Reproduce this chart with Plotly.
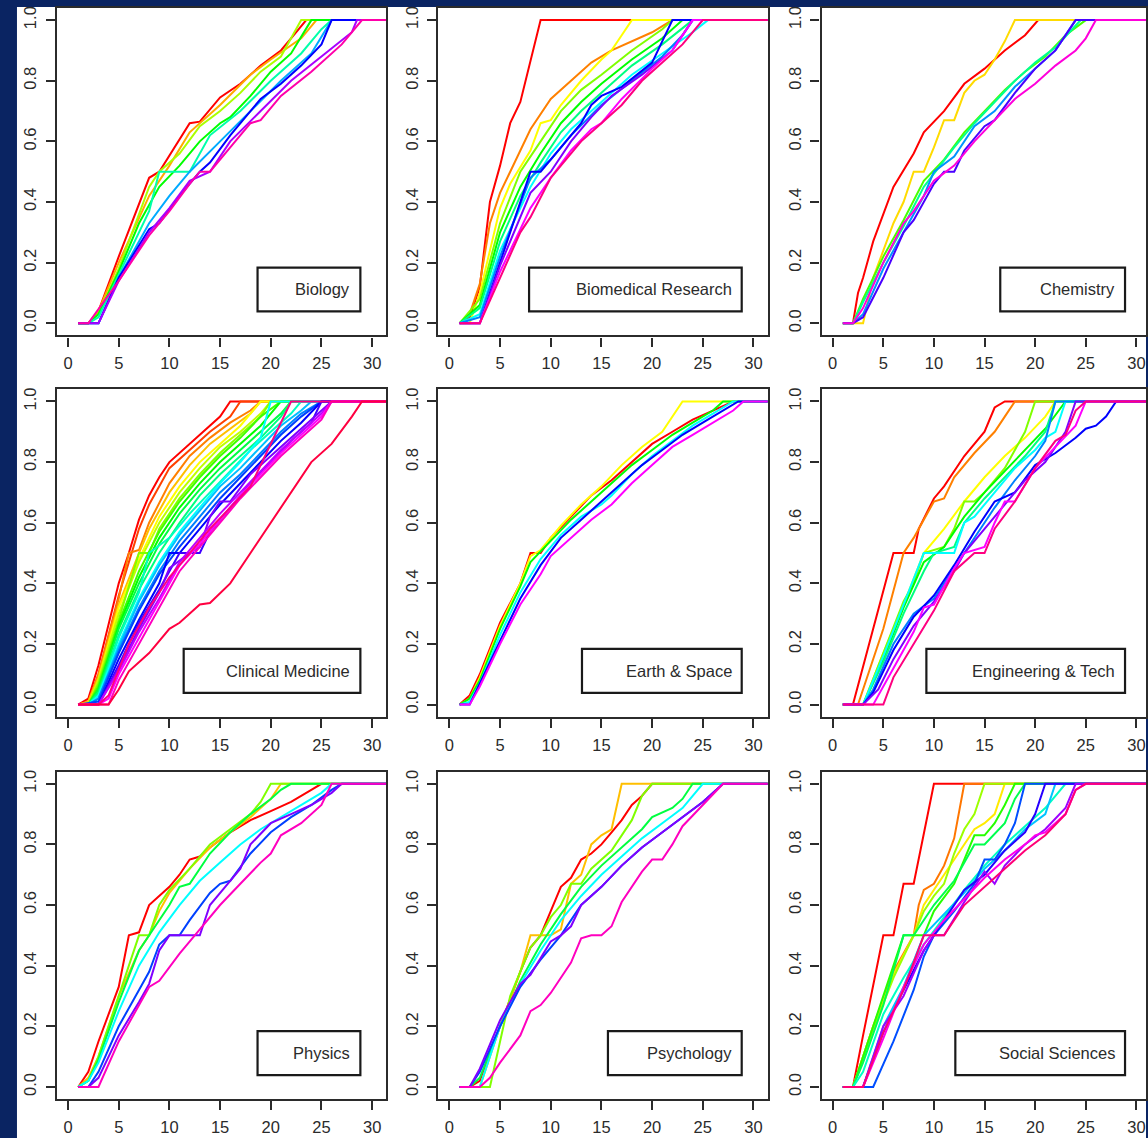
import colorsys
import plotly.graph_objects as go

# ---------------- data ----------------
FIELDS = ["Biology", "Biomedical Research", "Chemistry",
          "Clinical Medicine", "Earth & Space", "Engineering & Tech",
          "Physics", "Psychology", "Social Sciences"]

X_TICKS = [0, 5, 10, 15, 20, 25, 30]
Y_TICKS = [0.0, 0.2, 0.4, 0.6, 0.8, 1.0]

# each curve: list of (x, y) knots; curves ordered as drawn (rainbow order)
BIOLOGY = [
    [(1,0),(2,0),(3,0.04),(5,0.22),(8,0.48),(9,0.5),(12,0.66),(13,0.665),(15,0.745),(17,0.79),(19,0.85),(21,0.9),(22,0.94),(23.5,1.0)],
    [(1,0),(2,0),(3,0.04),(5,0.2),(8,0.42),(10,0.52),(12,0.63),(15,0.72),(18,0.82),(20,0.87),(23,0.94),(24.5,1.0)],
    [(1,0),(2,0),(3,0.03),(5,0.18),(8,0.45),(9,0.5),(11,0.56),(13,0.65),(15,0.7),(17,0.76),(19,0.83),(21,0.88),(23,1.0)],
    [(1,0),(2,0),(3,0.03),(5,0.17),(7,0.33),(9,0.45),(11,0.52),(13,0.6),(15,0.66),(16,0.68),(18,0.75),(20,0.83),(22,0.89),(24,1.0)],
    [(1,0),(2,0),(3,0.02),(5,0.16),(8,0.37),(9,0.5),(12,0.5),(14,0.62),(17,0.7),(20,0.8),(23,0.89),(25,0.97),(26,1.0)],
    [(1,0),(3,0),(5,0.15),(8,0.33),(10,0.42),(12,0.5),(15,0.6),(18,0.7),(21,0.8),(24,0.89),(26,1.0)],
    [(1,0),(2,0),(3,0),(5,0.15),(8,0.31),(9,0.33),(11,0.42),(13,0.5),(14,0.53),(16,0.62),(19,0.74),(21,0.79),(23,0.85),(25,0.92),(26,1.0)],
    [(1,0),(3,0),(5,0.14),(8,0.3),(10,0.38),(12,0.47),(14,0.5),(16,0.6),(19,0.7),(22,0.8),(25,0.88),(28,0.96),(28.5,1.0)],
    [(1,0),(2,0),(5,0.14),(8,0.29),(10,0.37),(12,0.46),(13,0.5),(14,0.5),(16,0.58),(18,0.66),(19,0.67),(21,0.75),(24,0.83),(27,0.92),(29,1.0)],
]

BIOMEDICAL = [
    [(1,0),(2,0.02),(3,0.12),(4,0.4),(5,0.52),(6,0.66),(7,0.73),(9,1.0)],
    [(1,0),(2,0.03),(3,0.13),(4,0.33),(5,0.43),(6,0.5),(8,0.64),(10,0.74),(12,0.8),(14,0.86),(16,0.9),(18,0.93),(20,0.96),(22,1.0)],
    [(1,0),(2,0),(3,0.1),(5,0.38),(6,0.46),(8,0.57),(9,0.66),(10,0.67),(11,0.72),(13,0.8),(15,0.87),(16,0.9),(17,0.95),(18,1.0)],
    [(1,0),(3,0.08),(5,0.33),(7,0.5),(9,0.6),(11,0.7),(13,0.77),(15,0.82),(18,0.9),(21,0.97),(22,1.0)],
    [(1,0),(3,0.06),(5,0.3),(7,0.45),(9,0.56),(11,0.66),(13,0.73),(15,0.79),(18,0.87),(21,0.94),(23,1.0)],
    [(1,0),(3,0.05),(5,0.27),(7,0.42),(9,0.53),(11,0.63),(13,0.7),(15,0.76),(18,0.85),(21,0.92),(24,1.0)],
    [(1,0),(3,0.03),(5,0.24),(8,0.45),(10,0.56),(12,0.64),(15,0.73),(18,0.82),(21,0.89),(24,0.96),(25.5,1.0)],
    [(1,0),(3,0.02),(5,0.22),(8,0.48),(10,0.54),(12,0.62),(15,0.72),(18,0.8),(21,0.88),(23,0.95),(24,1.0)],
    [(1,0),(3,0),(5,0.2),(8,0.5),(9,0.5),(11,0.58),(13,0.66),(14,0.72),(15,0.75),(17,0.78),(20,0.86),(22,1.0)],
    [(1,0),(3,0),(5,0.19),(8,0.43),(10,0.5),(12,0.6),(14,0.68),(16,0.75),(19,0.82),(22,0.9),(24,1.0)],
    [(1,0),(3,0),(5,0.17),(8,0.38),(10,0.48),(12,0.57),(14,0.64),(15,0.66),(17,0.74),(20,0.84),(22,0.9),(23,0.95),(24,1.0)],
    [(1,0),(2,0),(3,0),(5,0.15),(7,0.3),(8,0.35),(10,0.48),(11,0.52),(13,0.6),(15,0.66),(17,0.72),(19,0.8),(21,0.86),(23,0.92),(25,1.0)],
]

CHEMISTRY = [
    [(1,0),(2,0),(2.5,0.1),(3,0.15),(4,0.27),(6,0.45),(8,0.56),(9,0.63),(11,0.7),(13,0.79),(15,0.84),(17,0.9),(19,0.95),(20.3,1.0)],
    [(1,0),(3,0),(4,0.15),(6,0.33),(7,0.4),(8,0.5),(9,0.5),(10,0.58),(11,0.67),(12,0.67),(13,0.76),(14,0.8),(15,0.82),(16,0.87),(17,0.93),(18,1.0)],
    [(1,0),(2,0),(3,0.08),(5,0.22),(7,0.34),(9,0.47),(11,0.54),(13,0.63),(15,0.7),(17,0.77),(19,0.83),(21,0.88),(23,0.95),(25,1.0)],
    [(1,0),(2,0),(3,0.07),(5,0.2),(7,0.32),(9,0.45),(12,0.58),(14,0.66),(16,0.73),(18,0.8),(20,0.86),(22,0.91),(24.5,1.0)],
    [(1,0),(2,0),(3,0.03),(5,0.18),(7,0.3),(9,0.42),(10,0.5),(12,0.55),(14,0.65),(16,0.7),(18,0.78),(20,0.84),(22,0.9),(24,1.0)],
    [(1,0),(2,0),(3,0.02),(5,0.15),(7,0.3),(8,0.34),(10,0.46),(11,0.5),(12,0.5),(13,0.57),(15,0.65),(16,0.67),(18,0.76),(20,0.84),(22,0.9),(23,0.95),(24,1.0)],
    [(1,0),(2,0),(3,0.05),(5,0.2),(7,0.33),(8,0.37),(10,0.47),(12,0.52),(14,0.6),(16,0.67),(18,0.74),(20,0.79),(22,0.85),(24,0.9),(25,0.94),(26,1.0)],
]

CLINICAL = [
    [(1,0),(2,0.02),(3,0.13),(4,0.27),(5,0.4),(6,0.5),(7,0.61),(8,0.69),(9,0.75),(10,0.8),(12,0.86),(14,0.92),(15,0.95),(16,1.0)],
    [(1,0),(2,0.01),(3,0.1),(5,0.36),(6,0.47),(7,0.58),(8,0.66),(10,0.78),(12,0.84),(14,0.9),(16,0.95),(17,1.0)],
    [(1,0),(2,0.01),(3,0.1),(5,0.35),(6,0.5),(7,0.51),(8,0.6),(10,0.73),(12,0.82),(14,0.88),(16,0.93),(18,0.97),(19,1.0)],
    [(1,0),(2,0.01),(3,0.09),(5,0.33),(7,0.5),(8,0.58),(10,0.7),(12,0.79),(14,0.86),(16,0.91),(18,0.96),(19,1.0)],
    [(1,0),(2,0),(3,0.08),(5,0.32),(7,0.48),(9,0.62),(11,0.72),(13,0.8),(15,0.86),(17,0.92),(19,1.0)],
    [(1,0),(2,0),(3,0.08),(5,0.3),(7,0.47),(9,0.6),(11,0.7),(13,0.78),(15,0.85),(17,0.9),(19,0.96),(20,1.0)],
    [(1,0),(2,0),(3,0.07),(5,0.28),(7,0.5),(8,0.5),(9,0.58),(11,0.68),(13,0.76),(15,0.83),(17,0.89),(19,0.95),(20,1.0)],
    [(1,0),(2,0),(3,0.06),(5,0.27),(7,0.44),(9,0.57),(11,0.67),(13,0.75),(15,0.82),(17,0.88),(19,0.95),(21,1.0)],
    [(1,0),(2,0),(3,0.05),(5,0.26),(7,0.42),(9,0.55),(11,0.65),(13,0.73),(15,0.8),(17,0.86),(19,0.92),(21,1.0)],
    [(1,0),(2,0),(3,0.05),(5,0.25),(7,0.4),(9,0.53),(11,0.63),(13,0.71),(15,0.78),(17,0.84),(19,0.9),(21,0.96),(22,1.0)],
    [(1,0),(2,0),(3,0.04),(5,0.23),(7,0.38),(9,0.5),(11,0.6),(13,0.69),(15,0.76),(17,0.82),(19,0.88),(21,0.95),(22,1.0)],
    [(1,0),(2,0),(3,0.03),(5,0.22),(7,0.37),(8,0.5),(10,0.55),(12,0.63),(14,0.7),(16,0.77),(18,0.84),(20,0.9),(22,0.96),(23,1.0)],
    [(1,0),(2,0),(3,0.03),(5,0.2),(7,0.35),(9,0.47),(11,0.57),(13,0.65),(15,0.73),(17,0.8),(19,0.88),(20,1.0)],
    [(1,0),(2,0),(3,0.02),(5,0.19),(7,0.34),(9,0.46),(11,0.56),(13,0.64),(15,0.72),(17,0.78),(19,0.85),(21,0.92),(23,0.97),(24,1.0)],
    [(1,0),(2,0),(3,0.02),(5,0.18),(7,0.32),(9,0.44),(11,0.54),(13,0.62),(15,0.7),(17,0.76),(19,0.83),(21,0.9),(23,0.96),(25,1.0)],
    [(1,0),(3,0.01),(5,0.17),(7,0.31),(9,0.43),(11,0.52),(13,0.6),(15,0.68),(17,0.75),(19,0.82),(21,0.89),(23,0.95),(25,1.0)],
    [(1,0),(3,0),(5,0.15),(7,0.28),(9,0.4),(10,0.5),(11,0.5),(13,0.58),(15,0.66),(17,0.73),(19,0.8),(21,0.87),(23,0.93),(25,1.0)],
    [(1,0),(3,0),(5,0.13),(7,0.27),(9,0.38),(11,0.5),(13,0.5),(14,0.57),(16,0.65),(18,0.73),(20,0.8),(22,0.87),(24,0.93),(25,1.0)],
    [(1,0),(3,0),(5,0.12),(7,0.25),(9,0.37),(10,0.45),(12,0.5),(13,0.52),(14,0.62),(15,0.67),(16,0.67),(18,0.76),(20,0.82),(22,0.88),(24,0.94),(26,1.0)],
    [(1,0),(3,0),(5,0.11),(7,0.24),(9,0.35),(11,0.47),(13,0.55),(15,0.63),(17,0.7),(19,0.77),(21,0.84),(23,0.9),(25,0.96),(26,1.0)],
    [(1,0),(3,0),(4,0.02),(5,0.1),(7,0.22),(9,0.34),(11,0.46),(13,0.53),(15,0.61),(17,0.69),(19,0.76),(21,0.83),(23,0.89),(25,0.95),(26,1.0)],
    [(1,0),(3,0),(4,0),(5,0.08),(7,0.2),(9,0.32),(11,0.44),(13,0.52),(15,0.6),(17,0.68),(19,0.75),(21,0.82),(23,0.88),(25,0.94),(26,1.0)],
    [(1,0),(3,0),(4,0.03),(6,0.2),(8,0.32),(10,0.42),(12,0.5),(14,0.58),(16,0.65),(18,0.72),(20,0.86),(22,1.0)],
    [(1,0),(4,0),(5,0.05),(6,0.11),(8,0.17),(10,0.25),(11,0.27),(13,0.33),(14,0.335),(16,0.4),(18,0.5),(20,0.6),(22,0.7),(24,0.8),(26,0.86),(28,0.95),(29,1.0)],
]

EARTH = [
    [(1,0),(2,0.03),(3,0.1),(5,0.27),(7,0.4),(8,0.5),(9,0.5),(10,0.55),(12,0.62),(14,0.69),(16,0.74),(18,0.8),(20,0.86),(22,0.9),(24,0.94),(26,0.97),(28,1.0)],
    [(1,0),(2,0.02),(3,0.09),(5,0.26),(7,0.4),(8,0.49),(9,0.51),(11,0.59),(13,0.66),(15,0.72),(17,0.79),(19,0.85),(21,0.9),(23,1.0)],
    [(1,0),(2,0.02),(3,0.08),(5,0.25),(7,0.39),(8,0.47),(10,0.54),(12,0.61),(14,0.67),(16,0.73),(18,0.79),(20,0.84),(22,0.89),(24,0.93),(26,0.97),(27,1.0)],
    [(1,0),(2,0.01),(3,0.07),(5,0.23),(7,0.37),(9,0.48),(11,0.56),(13,0.62),(15,0.66),(16,0.69),(18,0.76),(20,0.82),(22,0.87),(24,0.92),(26,0.96),(28,1.0)],
    [(1,0),(2,0),(3,0.07),(5,0.21),(7,0.35),(9,0.46),(11,0.55),(13,0.61),(15,0.67),(17,0.73),(19,0.79),(21,0.84),(23,0.89),(25,0.93),(27,0.97),(28.5,1.0)],
    [(1,0),(2,0),(3,0.06),(5,0.2),(7,0.33),(9,0.43),(10,0.49),(12,0.55),(14,0.61),(16,0.66),(18,0.73),(20,0.79),(22,0.85),(24,0.89),(26,0.93),(28,0.97),(29,1.0)],
]

ENGINEERING = [
    [(1,0),(2,0),(6,0.5),(8,0.5),(8.5,0.58),(10,0.68),(11,0.72),(13,0.82),(15,0.9),(16,0.98),(17,1.0)],
    [(1,0),(2.5,0),(5,0.25),(7,0.5),(8,0.55),(10,0.67),(11,0.68),(12,0.75),(14,0.83),(16,0.9),(17,0.95),(18,1.0)],
    [(1,0),(3,0),(5,0.17),(7,0.33),(9,0.5),(11,0.58),(13,0.67),(15,0.75),(17,0.82),(19,0.88),(21,0.95),(22,1.0)],
    [(1,0),(3,0),(5,0.17),(7,0.34),(8,0.4),(9,0.5),(11,0.52),(12,0.58),(13,0.67),(14,0.67),(15,0.7),(17,0.78),(19,0.9),(20,1.0)],
    [(1,0),(3,0),(5,0.15),(7,0.32),(9,0.47),(11,0.52),(13,0.62),(15,0.7),(17,0.77),(19,0.84),(21,0.91),(23,1.0)],
    [(1,0),(3,0),(5,0.14),(7,0.3),(9,0.44),(10,0.5),(12,0.52),(13,0.6),(15,0.68),(17,0.75),(19,0.82),(21,0.9),(22,1.0)],
    [(1,0),(3,0),(5,0.16),(7,0.33),(9,0.5),(12,0.5),(13,0.6),(14,0.62),(16,0.7),(18,0.78),(20,0.84),(21,0.88),(22,0.9),(23,1.0)],
    [(1,0),(3,0),(4,0.05),(6,0.2),(8,0.3),(10,0.35),(12,0.45),(14,0.55),(16,0.65),(18,0.74),(20,0.82),(21,0.87),(22,1.0)],
    [(1,0),(3,0),(4,0.04),(6,0.18),(8,0.29),(10,0.36),(12,0.46),(14,0.57),(16,0.67),(18,0.7),(20,0.79),(22,0.83),(24,0.88),(25,0.91),(26,0.92),(27,0.95),(28,1.0)],
    [(1,0),(3,0),(4.5,0.05),(6,0.15),(8,0.26),(10,0.34),(12,0.44),(13,0.5),(15,0.58),(17,0.66),(19,0.74),(21,0.8),(23,0.9),(24,1.0)],
    [(1,0),(4,0),(6,0.12),(8,0.24),(9,0.32),(10,0.33),(12,0.45),(13,0.5),(15,0.52),(16,0.6),(17,0.67),(18,0.67),(20,0.78),(22,0.85),(24,0.92),(25,1.0)],
    [(1,0),(5,0),(6,0.09),(8,0.2),(10,0.31),(12,0.44),(14,0.5),(15,0.5),(16,0.58),(18,0.67),(20,0.78),(22,0.87),(23,0.89),(24,0.97),(25,1.0)],
]

PHYSICS = [
    [(1,0),(2,0.05),(3,0.15),(4,0.24),(5,0.33),(6,0.5),(7,0.51),(8,0.6),(9,0.63),(10,0.66),(11,0.7),(12,0.75),(13,0.76),(14,0.79),(16,0.84),(18,0.88),(20,0.91),(22,0.94),(24,0.98),(25,1.0)],
    [(1,0),(2,0.03),(3,0.1),(5,0.3),(7,0.45),(8,0.5),(9,0.58),(10,0.64),(12,0.72),(14,0.79),(16,0.84),(18,0.89),(20,0.95),(21,1.0)],
    [(1,0),(2,0.02),(3,0.1),(5,0.3),(7,0.5),(8,0.5),(9,0.6),(10,0.65),(12,0.72),(14,0.8),(16,0.85),(18,0.9),(19,0.94),(20,1.0)],
    [(1,0),(2,0.02),(3,0.09),(5,0.28),(7,0.45),(8,0.5),(10,0.6),(11,0.66),(12,0.67),(14,0.77),(16,0.84),(18,0.9),(20,0.95),(21,0.98),(22,1.0)],
    [(1,0),(2,0.02),(3,0.08),(5,0.25),(7,0.4),(9,0.51),(11,0.6),(13,0.68),(15,0.74),(17,0.8),(19,0.85),(21,0.89),(23,0.93),(25,0.97),(26,1.0)],
    [(1,0),(2,0),(3,0.05),(5,0.2),(7,0.32),(8,0.38),(9,0.47),(10,0.5),(11,0.5),(12,0.55),(14,0.64),(15,0.67),(16,0.68),(18,0.77),(20,0.84),(22,0.89),(24,0.93),(26,0.98),(27,1.0)],
    [(1,0),(2,0),(3,0.03),(5,0.17),(7,0.28),(8,0.34),(9,0.45),(10,0.5),(13,0.5),(14,0.6),(16,0.68),(17,0.72),(18,0.8),(20,0.87),(22,0.9),(24,0.93),(26,0.97),(27,1.0)],
    [(1,0),(3,0),(5,0.15),(7,0.27),(8,0.33),(9,0.35),(11,0.44),(13,0.52),(15,0.6),(17,0.67),(19,0.74),(20,0.77),(21,0.83),(23,0.87),(25,0.93),(26,1.0)],
]

PSYCHOLOGY = [
    [(1,0),(2,0),(3,0.02),(5,0.2),(7,0.38),(8,0.46),(9,0.5),(10,0.58),(11,0.66),(12,0.69),(13,0.75),(14,0.77),(15,0.8),(16,0.84),(17,0.88),(18,0.93),(19,0.96),(20,1.0)],
    [(1,0),(3,0),(5,0.2),(7,0.38),(8,0.5),(10,0.5),(11,0.52),(12,0.67),(13,0.7),(14,0.8),(15,0.83),(16,0.85),(17,1.0)],
    [(1,0),(4,0),(5,0.15),(6,0.3),(7,0.38),(8,0.46),(9,0.5),(10,0.56),(11,0.6),(12,0.67),(13,0.67),(14,0.72),(16,0.78),(18,0.88),(19,0.96),(20,1.0)],
    [(1,0),(2,0),(3,0.03),(5,0.2),(7,0.35),(9,0.47),(11,0.57),(13,0.66),(15,0.73),(17,0.79),(19,0.85),(20,0.89),(22,0.92),(23,0.95),(24,1.0)],
    [(1,0),(3,0),(5,0.2),(7,0.34),(9,0.45),(11,0.55),(13,0.63),(15,0.7),(17,0.76),(19,0.82),(21,0.87),(23,0.92),(25,1.0)],
    [(1,0),(2,0),(3,0.05),(5,0.2),(7,0.33),(9,0.42),(11,0.5),(13,0.6),(15,0.66),(17,0.73),(19,0.79),(21,0.84),(23,0.89),(25,0.94),(27,1.0)],
    [(1,0),(2,0),(3,0.06),(5,0.22),(7,0.34),(8,0.37),(10,0.48),(11,0.5),(12,0.53),(13,0.6),(15,0.66),(17,0.73),(19,0.79),(21,0.84),(23,0.89),(25,0.94),(27,1.0)],
    [(1,0),(3,0),(4,0.03),(5,0.08),(7,0.17),(8,0.25),(9,0.27),(10,0.31),(12,0.41),(13,0.49),(14,0.5),(15,0.5),(16,0.53),(17,0.61),(19,0.71),(20,0.75),(21,0.75),(22,0.8),(23,0.86),(25,0.93),(27,1.0)],
]

SOCIAL = [
    [(1,0),(2,0),(3,0.17),(4,0.33),(5,0.5),(6,0.5),(7,0.67),(8,0.67),(9,0.83),(10,1.0)],
    [(1,0),(2,0),(4,0.2),(6,0.38),(8,0.5),(8.5,0.6),(9,0.65),(10,0.67),(11,0.73),(12,0.82),(13,1.0)],
    [(1,0),(2,0),(4,0.2),(6,0.37),(8,0.5),(9,0.6),(11,0.7),(13,0.8),(14,0.85),(15,0.87),(16,0.9),(17,1.0)],
    [(1,0),(2,0),(4,0.19),(6,0.36),(8,0.5),(9,0.58),(10,0.63),(11,0.67),(12,0.77),(13,0.85),(14,0.9),(15,1.0)],
    [(1,0),(2,0),(3,0.1),(5,0.3),(7,0.5),(9,0.5),(10,0.58),(12,0.67),(13,0.75),(14,0.83),(15,0.83),(16,0.87),(17,0.93),(18,1.0)],
    [(1,0),(2,0),(3,0.08),(5,0.27),(7,0.5),(8,0.5),(10,0.6),(12,0.68),(14,0.8),(15,0.8),(17,0.87),(18,0.95),(19,1.0)],
    [(1,0),(2,0),(3,0.05),(5,0.24),(7,0.36),(9,0.47),(11,0.56),(13,0.65),(15,0.73),(17,0.8),(19,0.86),(21,0.92),(23,1.0)],
    [(1,0),(3,0),(5,0.2),(7,0.33),(9,0.5),(11,0.57),(13,0.64),(15,0.72),(17,0.78),(19,0.85),(21,0.9),(22,1.0)],
    [(1,0),(4,0),(6,0.15),(8,0.32),(9,0.43),(10,0.5),(12,0.58),(14,0.67),(15,0.75),(16,0.75),(17,0.8),(18,0.87),(19,1.0)],
    [(1,0),(3,0),(5,0.18),(7,0.32),(9,0.45),(11,0.55),(13,0.65),(15,0.7),(17,0.78),(19,0.84),(20,0.9),(21,1.0)],
    [(1,0),(3,0),(5,0.2),(7,0.3),(9,0.45),(10,0.5),(11,0.5),(13,0.61),(15,0.71),(16,0.67),(17,0.73),(19,0.8),(21,0.85),(23,0.92),(24,1.0)],
    [(1,0),(3,0),(5,0.16),(7,0.33),(9,0.47),(11,0.55),(13,0.62),(15,0.69),(17,0.75),(19,0.8),(20,0.83),(21,0.84),(23,0.9),(24,0.98),(25,1.0)],
    [(1,0),(3,0),(5,0.18),(7,0.32),(9,0.5),(11,0.5),(13,0.6),(15,0.66),(17,0.72),(19,0.78),(21,0.83),(23,0.9),(24,0.98),(25,1.0)],
]

PANELS = [BIOLOGY, BIOMEDICAL, CHEMISTRY, CLINICAL, EARTH, ENGINEERING,
          PHYSICS, PSYCHOLOGY, SOCIAL]

# ---------------- layout / styling ----------------
W, H = 1148, 1138
COL_L = [57, 439, 823]
COL_R = [387, 769, 1148]
ROW_T = [6, 388, 771]
ROW_B = [334, 716, 1099]
X_RANGES = [[-1.1, 31.4], [-1.1, 31.4], [-1.1, 30.95]]
LEG_W = [103, 213, 125, 177, 160, 199, 103, 134, 170]  # legend box widths, px
FONT = "Liberation Sans, Arial, Helvetica, sans-serif"
INK = "#2b2b2b"
NAVY = "#0a2462"


def px_x(p):
    return p / W


def px_y(p):
    return 1 - p / H


def rainbow(n):
    out = []
    for i in range(n):
        r, g, b = colorsys.hsv_to_rgb(i / n, 1, 1)
        out.append("rgb(%d,%d,%d)" % (round(r * 255), round(g * 255), round(b * 255)))
    return out


fig = go.Figure()
shapes = [dict(type="rect", xref="paper", yref="paper", x0=px_x(17), x1=1.0,
               y0=0.0, y1=px_y(5), fillcolor="white", line=dict(width=0), layer="below")]
annotations = []

for k, curves in enumerate(PANELS):
    r, c = divmod(k, 3)
    xa = "x" if k == 0 else "x%d" % (k + 1)
    ya = "y" if k == 0 else "y%d" % (k + 1)
    cols = rainbow(len(curves))
    for i, cv in enumerate(curves):
        xs = [p[0] for p in cv] + [32]
        ys = [p[1] for p in cv] + [1.0]
        fig.add_trace(go.Scatter(x=xs, y=ys, mode="lines", xaxis=xa, yaxis=ya,
                                 line=dict(color=cols[i], width=2),
                                 showlegend=False, hoverinfo="skip"))
    axis_common = dict(showline=True, linecolor=INK, linewidth=2.2, mirror=True,
                       ticks="outside", ticklen=9, tickwidth=2, tickcolor=INK,
                       showgrid=False, zeroline=False, ticklabelstandoff=3,
                       tickfont=dict(family=FONT, size=16.5, color=INK))
    fig.layout[("xaxis" if k == 0 else "xaxis%d" % (k + 1))] = dict(
        axis_common, domain=[px_x(COL_L[c]), px_x(COL_R[c])], range=X_RANGES[c],
        anchor=ya, tickvals=X_TICKS)
    fig.layout[("yaxis" if k == 0 else "yaxis%d" % (k + 1))] = dict(
        axis_common, domain=[px_y(ROW_B[r]), px_y(ROW_T[r])], range=[-0.04, 1.04],
        anchor=xa, tickvals=Y_TICKS, ticktext=["%.1f" % v for v in Y_TICKS],
        tickangle=-90)
    # label box (R-style legend without keys)
    right = COL_L[c] + 304
    bottom = ROW_B[r] - 24
    top = bottom - 44
    left = right - LEG_W[k]
    shapes.append(dict(type="rect", xref="paper", yref="paper",
                       x0=px_x(left), x1=px_x(right), y0=px_y(bottom), y1=px_y(top),
                       line=dict(color="#1a1a1a", width=2.2), fillcolor="white", layer="above"))
    annotations.append(dict(xref="paper", yref="paper", x=px_x(right - 8),
                            y=px_y((top + bottom) / 2), text=FIELDS[k], showarrow=False,
                            xanchor="right", yanchor="middle",
                            font=dict(family=FONT, size=16.5, color=INK)))

fig.update_layout(width=W, height=H, margin=dict(l=0, r=0, t=0, b=0),
                  paper_bgcolor=NAVY, plot_bgcolor="rgba(0,0,0,0)",
                  shapes=shapes, annotations=annotations, showlegend=False)

fig.write_html("out.html", config={"displayModeBar": False},
               post_script="document.body.style.margin='0';document.body.style.overflow='hidden';")
